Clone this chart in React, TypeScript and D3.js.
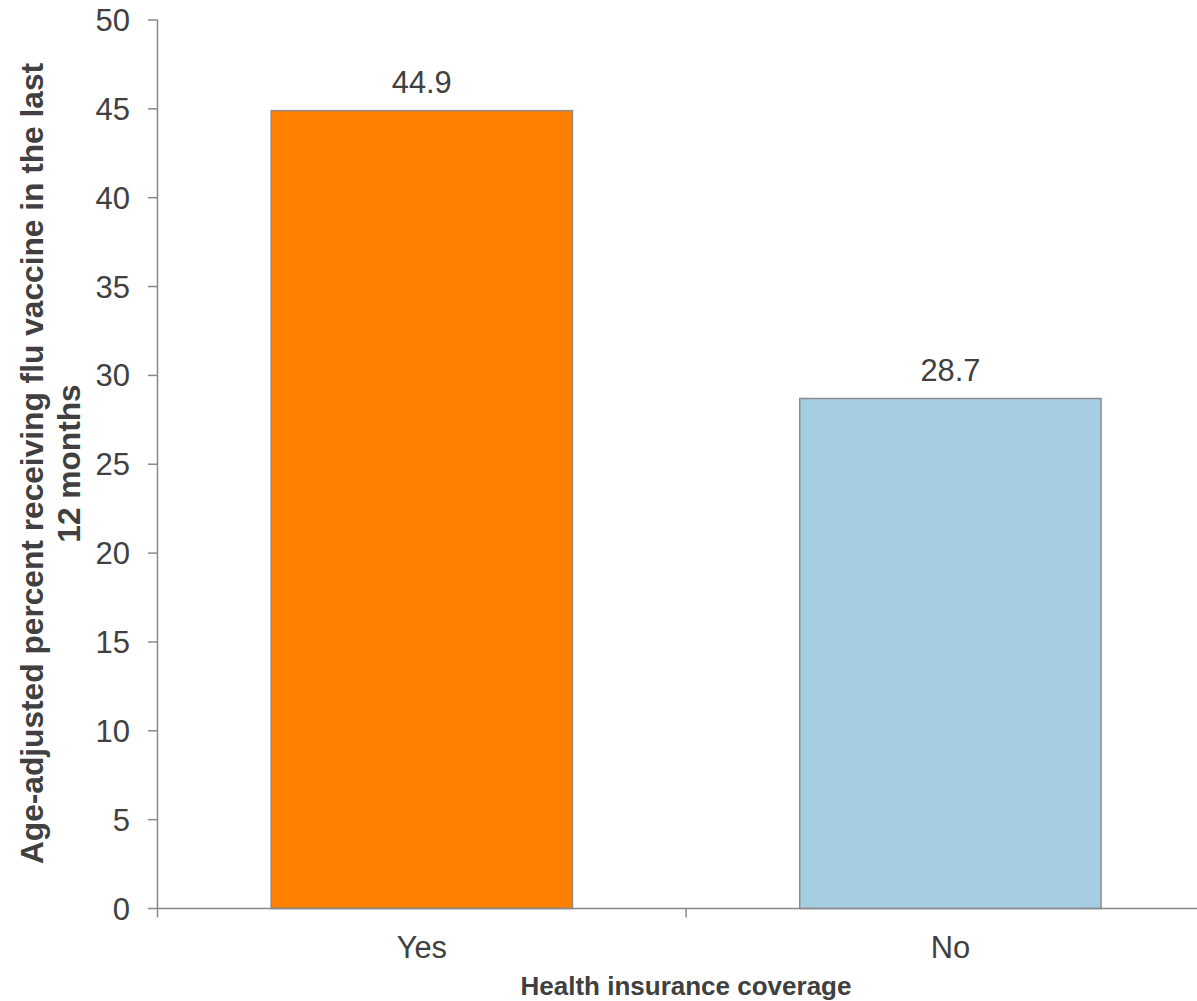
import React from "react";
import * as d3 from "d3";

const categories = ["Yes", "No"];
const values = [44.9, 28.7];
const barColors = ["#FF8000", "#A6CEE3"];
const yTicks = [0, 5, 10, 15, 20, 25, 30, 35, 40, 45, 50];

const W = 1197;
const H = 1001;

export default function App() {
  const x = d3.scaleBand<string>().domain(categories).range([157.5, 1214.7]).paddingInner(0.43).paddingOuter(0.215);
  const y = d3.scaleLinear().domain([0, 50]).range([908.5, 20]);
  const font = "'Liberation Sans', Arial, sans-serif";
  const textColor = "#404040";
  const axisColor = "#898989";
  const step = x.step();
  const boundary = (x(categories[1]) as number) - step * 0.43 / 2;
  return (
    <svg width={W} height={H} style={{ position: "absolute", left: 0, top: 0 }} fontFamily={font}>
      {categories.map((c, i) => (
        <g key={c}>
          <rect
            x={x(c)}
            y={y(values[i])}
            width={x.bandwidth()}
            height={y(0) - y(values[i])}
            fill={barColors[i]}
            stroke="#8c8c8c"
            strokeWidth={1.5}
          />
          <text
            x={(x(c) as number) + x.bandwidth() / 2}
            y={y(values[i]) - 17.5}
            textAnchor="middle"
            fontSize={30.8}
            fill={textColor}
          >
            {values[i].toFixed(1)}
          </text>
          <text
            x={(x(c) as number) + x.bandwidth() / 2}
            y={958}
            textAnchor="middle"
            fontSize={30.8}
            fill={textColor}
          >
            {c}
          </text>
        </g>
      ))}
      <line x1={157.5} x2={157.5} y1={y(50)} y2={y(0) + 9} stroke={axisColor} strokeWidth={1.5} />
      {yTicks.map((t) => (
        <g key={t}>
          <line x1={148} x2={157.5} y1={y(t)} y2={y(t)} stroke={axisColor} strokeWidth={1.5} />
          <text x={130} y={y(t) + 11} textAnchor="end" fontSize={31} fill={textColor}>
            {t}
          </text>
        </g>
      ))}
      <line x1={157.5} x2={W} y1={y(0)} y2={y(0)} stroke={axisColor} strokeWidth={1.5} />
      <line x1={boundary} x2={boundary} y1={y(0)} y2={y(0) + 9} stroke={axisColor} strokeWidth={1.5} />
      <text x={686} y={995} textAnchor="middle" fontSize={26} fontWeight="bold" fill={textColor}>
        Health insurance coverage
      </text>
      <g transform="translate(0,463.5) rotate(-90)">
        <text x={0} y={43} textAnchor="middle" fontSize={31.7} fontWeight="bold" fill={textColor}>
          Age-adjusted percent receiving flu vaccine in the last
        </text>
        <text x={0} y={80} textAnchor="middle" fontSize={31.7} fontWeight="bold" fill={textColor}>
          12 months
        </text>
      </g>
    </svg>
  );
}
